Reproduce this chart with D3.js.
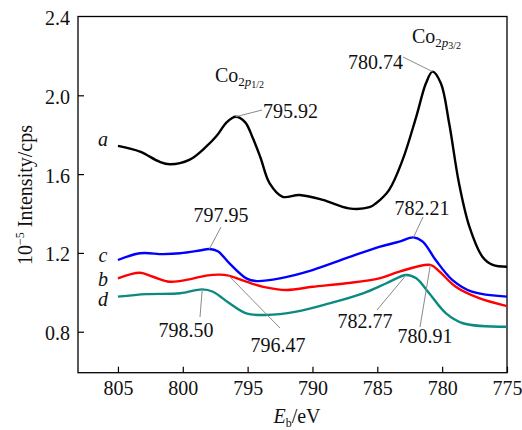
<!DOCTYPE html>
<html>
<head>
<meta charset="utf-8">
<script src="https://cdn.jsdelivr.net/npm/d3@7/dist/d3.min.js"></script>
<style>
  html, body { margin: 0; padding: 0; background: #fff; }
  svg { display: block; }
  svg text { font-family: "Liberation Serif", "Tinos", "Times New Roman", "DejaVu Serif", serif; }
</style>
</head>
<body>
<div id="chart"></div>
<script>
// XPS Co 2p spectra, binding energy (eV) vs intensity (1e5 cps)
const energyA = [805, 803.3, 801.8, 801.0, 799.5, 798.2, 797.4, 796.6, 795.92, 795.2, 794.6, 794.0, 793.3, 792.3, 791.0, 789.2, 787.2, 785.6, 785.1, 784.1, 783.05, 782.0, 781.25, 780.74, 780.1, 779.46, 778.7, 777.9, 776.9, 776.1, 775];
const seriesA  = [1.743, 1.714, 1.663, 1.650, 1.672, 1.739, 1.793, 1.864, 1.891, 1.864, 1.783, 1.682, 1.553, 1.485, 1.494, 1.469, 1.426, 1.432, 1.452, 1.519, 1.672, 1.891, 2.061, 2.120, 2.061, 1.858, 1.553, 1.333, 1.181, 1.139, 1.130];

const energyB = [805, 803.3, 802.3, 801.0, 799.5, 798.2, 797.2, 796.47, 795.1, 793.8, 792.0, 790.0, 787.4, 784.85, 783.3, 780.91, 780.2, 778.95, 777.15, 775];
const seriesB  = [1.071, 1.099, 1.079, 1.054, 1.066, 1.085, 1.090, 1.085, 1.054, 1.028, 1.012, 1.028, 1.046, 1.071, 1.105, 1.139, 1.105, 1.028, 0.970, 0.930];

const energyC = [805, 803.3, 801.5, 800.2, 798.7, 797.95, 797.3, 796.4, 795.1, 794.3, 792.5, 790.0, 787.4, 784.85, 783.3, 782.21, 781.5, 780.5, 779.2, 777.7, 775];
const seriesC  = [1.164, 1.198, 1.194, 1.198, 1.212, 1.220, 1.208, 1.147, 1.071, 1.057, 1.071, 1.113, 1.173, 1.231, 1.257, 1.279, 1.257, 1.164, 1.062, 1.003, 0.978];

const energyD = [805, 802.8, 800.2, 798.5, 797.67, 796.4, 795.1, 793.6, 791.25, 788.7, 786.1, 784.3, 782.77, 782.0, 781.0, 779.7, 778.4, 775];
const seriesD  = [0.978, 0.991, 0.995, 1.015, 1.003, 0.944, 0.893, 0.885, 0.902, 0.944, 0.995, 1.046, 1.088, 1.071, 0.995, 0.893, 0.843, 0.825];

const seriesNames  = ['a', 'b', 'c', 'd'];
const seriesColors = ['#000000', '#ff0000', '#0000ff', '#0a8a80'];

const xTicks = [805, 800, 795, 790, 785, 780, 775];
const yTicks = [0.8, 1.2, 1.6, 2.0, 2.4];

// peak labels: which series, which energy
const peakSeries = ['a', 'a', 'c', 'c', 'd', 'b', 'd', 'b'];
const peakEnergy = [795.92, 780.74, 797.95, 782.21, 798.50, 796.47, 782.77, 780.91];

// where the label text sits (pixels) and where its leader leaves it
const peakLayout = [
  { tx: 263, ty: 118, anchor: 'start',  lx: 262, ly: 110 },
  { tx: 403, ty: 69,  anchor: 'end',    lx: 403, ly: 57 },
  { tx: 221, ty: 222, anchor: 'middle', lx: 221, ly: 227 },
  { tx: 422, ty: 215, anchor: 'middle', lx: 423, ly: 217 },
  { tx: 186, ty: 337, anchor: 'middle', lx: 200, ly: 317 },
  { tx: 278, ty: 352, anchor: 'middle', lx: 280, ly: 328 },
  { tx: 365, ty: 328, anchor: 'middle', lx: 377, ly: 310 },
  { tx: 425, ty: 343, anchor: 'middle', lx: 420, ly: 327 }
];

const W = 522, H = 430;
const plotL = 78, plotR = 507, plotT = 16.5, plotB = 372.7;

const svg = d3.select('#chart').append('svg').attr('width', W).attr('height', H);

const x = d3.scaleLinear().domain([808.08, 775]).range([plotL, plotR]);
const y = d3.scaleLinear().domain([0.592, 2.4]).range([plotB, plotT]);

const data = {
  a: energyA.map((e, i) => [e, seriesA[i]]),
  b: energyB.map((e, i) => [e, seriesB[i]]),
  c: energyC.map((e, i) => [e, seriesC[i]]),
  d: energyD.map((e, i) => [e, seriesD[i]])
};

// frame
svg.append('rect')
  .attr('x', plotL).attr('y', plotT)
  .attr('width', plotR - plotL).attr('height', plotB - plotT)
  .attr('fill', 'none').attr('stroke', '#000').attr('stroke-width', 1.3);

// axes, ticks pointing inward
const xAxis = svg.append('g').attr('transform', 'translate(0,' + plotB + ')')
  .call(d3.axisBottom(x).tickValues(xTicks).tickSizeInner(-6).tickSizeOuter(0).tickPadding(12).tickFormat(d3.format('d')));
const yAxis = svg.append('g').attr('transform', 'translate(' + plotL + ',0)')
  .call(d3.axisLeft(y).tickValues(yTicks).tickSizeInner(-6).tickSizeOuter(0).tickPadding(8).tickFormat(d3.format('.1f')));

[xAxis, yAxis].forEach(g => {
  g.attr('font-family', null);
  g.select('.domain').remove();
  g.selectAll('.tick line').attr('stroke', '#000').attr('stroke-width', 1.2);
  g.selectAll('.tick text').attr('fill', '#111').style('font-size', '20px');
});
xAxis.selectAll('.tick text').attr('dy', '0.5em');
yAxis.selectAll('.tick').filter(d => d === 2.4).select('line').remove();
yAxis.selectAll('.tick text').attr('dy', '0.4em');

// curves
const line = d3.line()
  .x(d => x(d[0])).y(d => y(d[1]))
  .curve(d3.curveCatmullRom.alpha(0.5));

seriesNames.forEach((name, i) => {
  svg.append('path')
    .datum(data[name])
    .attr('d', line)
    .attr('fill', 'none')
    .attr('stroke', seriesColors[i])
    .attr('stroke-width', 2.4)
    .attr('stroke-linejoin', 'round');
});

// series letters at the left end
const letterPos = { a: 146, b: 286, c: 262, d: 306 };
seriesNames.forEach(name => {
  svg.append('text')
    .attr('x', 103).attr('y', letterPos[name])
    .attr('text-anchor', 'middle')
    .style('font-size', '20px').style('font-style', 'italic')
    .attr('fill', '#111')
    .text(name);
});

// peak labels with grey leader lines
peakEnergy.forEach((e, i) => {
  const pts = data[peakSeries[i]];
  const p = pts.find(d => d[0] === e);
  const L = peakLayout[i];
  svg.append('line')
    .attr('x1', L.lx).attr('y1', L.ly)
    .attr('x2', x(p[0])).attr('y2', y(p[1]))
    .attr('stroke', '#8a8a8a').attr('stroke-width', 1);
  svg.append('text')
    .attr('x', L.tx).attr('y', L.ty)
    .attr('text-anchor', L.anchor)
    .style('font-size', '20px')
    .attr('fill', '#111')
    .text(e.toFixed(2));
});

// Co 2p labels
function coLabel(px, py, frac){
  const t = svg.append('text').attr('x', px).attr('y', py).style('font-size', '20px').attr('fill', '#111');
  t.append('tspan').text('Co');
  t.append('tspan').attr('dy', 4).style('font-size', '13px').text('2');
  t.append('tspan').style('font-size', '13px').style('font-style', 'italic').text('p');
  t.append('tspan').attr('dy', 2).style('font-size', '10px').text(frac);
}
coLabel(215, 82, '1/2');
coLabel(412, 43, '3/2');

// axis titles
const yt = svg.append('text')
  .attr('transform', 'translate(32,195) rotate(-90)')
  .attr('text-anchor', 'middle')
  .style('font-size', '20px').attr('fill', '#111');
yt.append('tspan').text('10');
yt.append('tspan').attr('dy', -8).style('font-size', '12px').text('\u22125');
yt.append('tspan').attr('dy', 8).text(' Intensity/cps');

const xt = svg.append('text')
  .attr('x', 297).attr('y', 423)
  .attr('text-anchor', 'middle')
  .style('font-size', '20px').attr('fill', '#111');
xt.append('tspan').style('font-style', 'italic').text('E');
xt.append('tspan').attr('dy', 4).style('font-size', '12px').text('b');
xt.append('tspan').attr('dy', -4).text('/eV');
</script>
</body>
</html>
